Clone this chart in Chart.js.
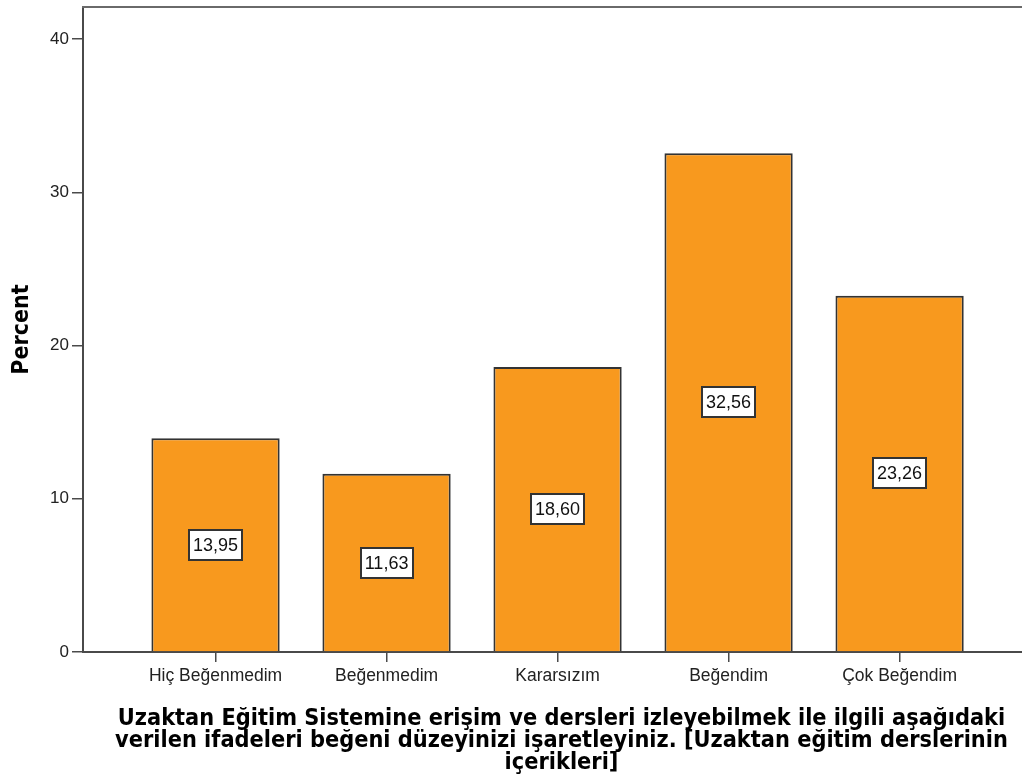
<!DOCTYPE html>
<html>
<head>
<meta charset="utf-8">
<script src="https://cdn.jsdelivr.net/npm/chart.js@4"></script>
<style>
  html, body { margin: 0; padding: 0; background: #fff; overflow: hidden; }
  #wrap { width: 1040px; height: 783px; }
</style>
</head>
<body>
<div id="wrap"><canvas id="c" width="1040" height="783"></canvas></div>
<script>
const categories = ['Hiç Beğenmedim', 'Beğenmedim', 'Kararsızım', 'Beğendim', 'Çok Beğendim'];
const percents = [13.95, 11.63, 18.60, 32.56, 23.26];
const yTicks = [0, 10, 20, 30, 40];
const xTitle = ['Uzaktan Eğitim Sistemine erişim ve dersleri izleyebilmek ile ilgili aşağıdaki',
                'verilen ifadeleri beğeni düzeyinizi işaretleyiniz. [Uzaktan eğitim derslerinin',
                'içerikleri]'];
const yTitle = 'Percent';

const axisColor = '#4a4a4a';

const topBorder = {
  id: 'topBorder',
  afterDraw(chart) {
    const {ctx, chartArea} = chart;
    ctx.save();
    ctx.strokeStyle = '#6a6a6a';
    ctx.lineWidth = 2;
    ctx.beginPath();
    ctx.moveTo(chartArea.left - 1, chartArea.top);
    ctx.lineTo(chartArea.right, chartArea.top);
    ctx.stroke();
    ctx.restore();
  }
};

const valueLabels = {
  id: 'valueLabels',
  afterDatasetsDraw(chart) {
    const {ctx} = chart;
    const meta = chart.getDatasetMeta(0);
    ctx.save();
    ctx.font = '18px "Liberation Sans", Arial, sans-serif';
    ctx.textAlign = 'center';
    ctx.textBaseline = 'middle';
    meta.data.forEach((bar, i) => {
      const txt = percents[i].toFixed(2).replace('.', ',');
      const cx = bar.x;
      const cy = (bar.y + bar.base) / 2;
      const w = ctx.measureText(txt).width + 8;
      const h = 30;
      ctx.fillStyle = '#ffffff';
      ctx.fillRect(Math.round(cx - w / 2), Math.round(cy - h / 2), Math.round(w), h);
      ctx.strokeStyle = '#333';
      ctx.lineWidth = 2;
      ctx.strokeRect(Math.round(cx - w / 2), Math.round(cy - h / 2), Math.round(w), h);
      ctx.fillStyle = '#111';
      ctx.fillText(txt, cx, cy + 1);
    });
    ctx.restore();
  }
};

new Chart(document.getElementById('c'), {
  type: 'bar',
  data: {
    datasets: [{
      data: percents.map((v, i) => ({x: i, y: v})),
      backgroundColor: '#F8991E',
      borderColor: '#333333',
      borderWidth: 2,
      borderSkipped: 'bottom',
      categoryPercentage: 1,
      barPercentage: 0.75
    }]
  },
  options: {
    responsive: false,
    animation: false,
    layout: { padding: { top: 7, left: 0, right: 0, bottom: 0 } },
    plugins: { legend: { display: false }, tooltip: { enabled: false } },
    scales: {
      x: {
        type: 'linear',
        min: -0.775,
        max: 4.821,
        offset: false,
        afterFit(scale) { scale.height = 131; scale.paddingLeft = 0; scale.paddingRight = 0; },
        afterBuildTicks(scale) { scale.ticks = categories.map((c, i) => ({value: i})); },
        ticks: {
          autoSkip: false,
          maxRotation: 0,
          includeBounds: false,
          padding: 4,
          color: '#222',
          font: { family: '"Liberation Sans", Arial, sans-serif', size: 17.5 },
          callback: (v) => categories[v] ?? ''
        },
        grid: { display: true, offset: false, drawOnChartArea: false, drawTicks: true, tickLength: 10, color: axisColor, lineWidth: 1.5 },
        border: { display: true, color: axisColor, width: 2 },
        title: {
          display: true,
          text: xTitle,
          color: '#000',
          font: { family: '"DejaVu Sans Condensed", "DejaVu Sans", sans-serif', weight: 'bold', size: 23.3, lineHeight: '22px' },
          padding: { top: 0, bottom: 9 }
        }
      },
      y: {
        min: 0,
        max: 42.1,
        afterFit(scale) { scale.width = 83; scale.paddingTop = 0; scale.paddingBottom = 0; },
        afterBuildTicks(scale) { scale.ticks = yTicks.map(v => ({value: v})); },
        ticks: {
          includeBounds: false,
          padding: 3,
          color: '#222',
          font: { family: '"Liberation Sans", Arial, sans-serif', size: 17 }
        },
        grid: { display: true, drawOnChartArea: false, drawTicks: true, tickLength: 11, color: axisColor, lineWidth: 1.5 },
        border: { display: true, color: axisColor, width: 2 },
        title: {
          display: true,
          text: yTitle,
          color: '#000',
          font: { family: '"DejaVu Sans Condensed", "DejaVu Sans", sans-serif', weight: 'bold', size: 23, lineHeight: 1.2 },
          padding: { top: 8, bottom: 0 }
        }
      }
    }
  },
  plugins: [topBorder, valueLabels]
});
</script>
</body>
</html>
